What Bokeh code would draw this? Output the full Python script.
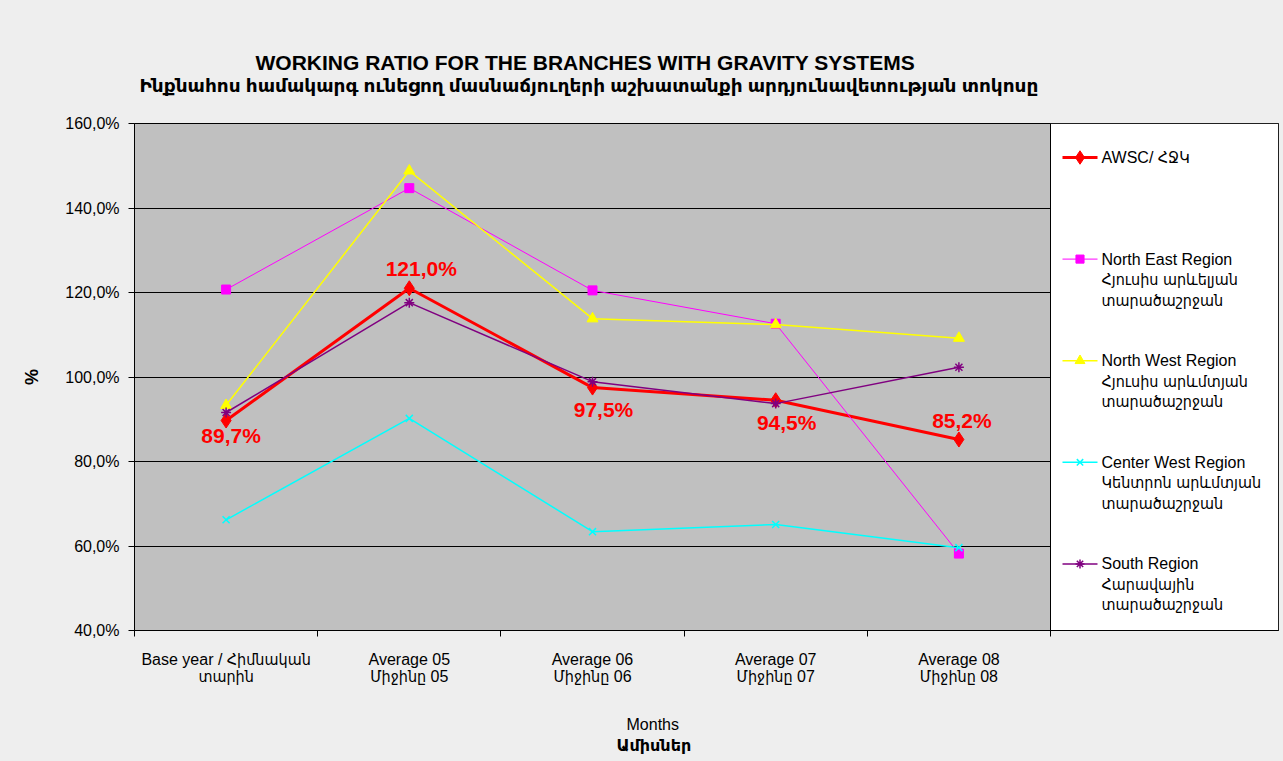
from bokeh.plotting import figure
from bokeh.models import Range1d, FixedTicker, ColumnDataSource, Title
from bokeh.core.properties import value
from bokeh.embed import file_html
from bokeh.resources import INLINE

# ---------------- data ----------------
categories = [
    "Base year / Հիմնական\nտարին",
    "Average 05\nՄիջինը 05",
    "Average 06\nՄիջինը 06",
    "Average 07\nՄիջինը 07",
    "Average 08\nՄիջինը 08",
]
awsc = [89.7, 121.0, 97.5, 94.5, 85.2]
north_east = [120.7, 144.7, 120.5, 112.6, 58.2]
north_west = [93.3, 148.8, 113.8, 112.4, 109.2]
center_west = [66.2, 90.2, 63.4, 65.1, 59.6]
south = [91.6, 117.6, 98.9, 93.7, 102.3]
awsc_labels = ["89,7%", "121,0%", "97,5%", "94,5%", "85,2%"]
y_ticks = [40, 60, 80, 100, 120, 140, 160]
y_tick_labels = ["40,0%", "60,0%", "80,0%", "100,0%", "120,0%", "140,0%", "160,0%"]
series_labels = [
    ["AWSC/ ՀՋԿ"],
    ["North East Region", "Հյուսիս արևելյան", "տարածաշրջան"],
    ["North West Region", "Հյուսիս արևմտյան", "տարածաշրջան"],
    ["Center West Region", "Կենտրոն արևմտյան", "տարածաշրջան"],
    ["South Region", "Հարավային", "տարածաշրջան"],
]
title_en = "WORKING RATIO FOR THE BRANCHES WITH GRAVITY SYSTEMS"
title_hy = "Ինքնահոս համակարգ ունեցող մասնաճյուղերի աշխատանքի արդյունավետության տոկոսը"
x_title_en = "Months"
x_title_hy = "Ամիսներ"
y_title = "%"

# ---------------- layout / style ----------------
W, H = 1283, 761
FL, FT, FB, FR = 134, 123, 131, 5
FRAME_W = W - FL - FR
FRAME_H = H - FT - FB
N = len(categories)
CAT_PX = 183.2
X_END = FRAME_W / CAT_PX
Y0, Y1 = 40, 160
FONT = "Liberation Sans, DejaVu Sans Condensed"
FONT_WIDE = "Liberation Sans, DejaVu Sans"
BG = "#eeeeee"


def dx(px):
    """canvas pixel column -> data x"""
    return (px - FL) / CAT_PX


def dy(py):
    """canvas pixel row -> data y"""
    return Y1 - (py - FT) * (Y1 - Y0) / FRAME_H


p = figure(width=W, height=H, x_range=Range1d(0, X_END), y_range=Range1d(Y0, Y1),
           output_backend="svg", toolbar_location=None, title=None,
           min_border_left=FL, min_border_top=FT, min_border_bottom=FB, min_border_right=FR,
           background_fill_color="#c0c0c0", border_fill_color=BG,
           outline_line_color="black", outline_line_width=1)

# axes
xa = p.xaxis[0]
xs = [i + 0.5 for i in range(N)]
xa.ticker = FixedTicker(ticks=xs, minor_ticks=list(range(N + 1)))
xa.major_label_overrides = {x: c for x, c in zip(xs, categories)}
xa.major_tick_line_color = None
xa.major_tick_out = 6
xa.minor_tick_in = 0
xa.minor_tick_out = 6
xa.minor_tick_line_color = "black"
xa.axis_line_color = "black"
xa.major_label_standoff = 14
xa.major_label_text_font = FONT
xa.major_label_text_font_size = "16px"
xa.major_label_text_color = "black"
xa.major_label_text_line_height = 1.05

ya = p.yaxis[0]
ya.ticker = FixedTicker(ticks=y_ticks, minor_ticks=[])
ya.major_label_overrides = {t: l for t, l in zip(y_ticks, y_tick_labels)}
ya.major_tick_in = 0
ya.major_tick_out = 6
ya.major_tick_line_color = "black"
ya.axis_line_color = "black"
ya.major_label_standoff = 9
ya.major_label_text_font = FONT
ya.major_label_text_font_size = "16px"
ya.major_label_text_color = "black"
ya.axis_label = y_title
ya.axis_label_text_font = FONT
ya.axis_label_text_font_style = "bold"
ya.axis_label_text_font_size = "18px"
ya.axis_label_text_color = "black"
ya.axis_label_standoff = 20

p.xgrid.grid_line_color = None
p.ygrid.grid_line_color = "black"
p.ygrid.grid_line_width = 1

# titles: stacked outward from the plot frame; a blank line gives the gap to the frame
p.add_layout(Title(text=title_hy + "\n ", align="left", offset=5, standoff=0,
                   text_font=FONT_WIDE, text_font_style="bold", text_font_size="18.5px",
                   text_line_height=1.3, text_color="black"), "above")
p.add_layout(Title(text=title_en, align="left", offset=121, standoff=0,
                   text_font=FONT, text_font_style="bold", text_font_size="21px",
                   text_color="black"), "above")

p.add_layout(Title(text=" \n" + x_title_en, align="left", offset=492, standoff=2,
                   text_font=FONT, text_font_style="normal", text_font_size="16px",
                   text_line_height=1.45, text_color="black"), "below")
p.add_layout(Title(text=x_title_hy, align="left", offset=482, standoff=0,
                   text_font=FONT_WIDE, text_font_style="bold", text_font_size="16px",
                   text_color="black"), "below")

# legend box
p.quad(left=[N], right=[X_END], bottom=[Y0], top=[Y1], fill_color="white", line_color="black", line_width=1)

# series
src = ColumnDataSource(dict(x=xs, awsc=awsc, ne=north_east, nw=north_west, cw=center_west, s=south))
styles = [
    ("awsc", "#ff0000", 3, "diamond", 15),
    ("ne", "#ff00ff", 1, "square", 9),
    ("nw", "#ffff00", 1.5, "triangle", 11),
    ("cw", "#00ffff", 1.5, "x", 10),
    ("s", "#800080", 1.5, "asterisk", 10),
]
for col, color, lw, marker, size in styles:
    p.line("x", col, source=src, line_color=color, line_width=lw)
    p.scatter("x", col, source=src, marker=marker, size=size, fill_color=color,
              line_color=color, line_width=1.5 if marker in ("x", "asterisk") else 1)

# AWSC data labels
label_dx = [5, 12, 11, 11, 3]
label_dy = [15, -20, 22, 22, -19]
p.text(x=xs, y=awsc, text=awsc_labels, x_offset=label_dx, y_offset=label_dy,
       text_align="center", text_baseline="middle", text_color="#ff0000",
       text_font=value(FONT), text_font_style="bold", text_font_size="21px")

# legend entries
LEG_TOP, LEG_STEP, LINE_STEP = 157, 101.6, 20.5
for i, ((col, color, lw, marker, size), lines) in enumerate(zip(styles, series_labels)):
    ty = LEG_TOP + i * LEG_STEP
    p.line(x=[dx(1062), dx(1097)], y=[dy(ty), dy(ty)], line_color=color, line_width=lw)
    p.scatter(x=[dx(1079.5)], y=[dy(ty)], marker=marker, size=size * 0.9, fill_color=color,
              line_color=color, line_width=1.5 if marker in ("x", "asterisk") else 1)
    p.text(x=[dx(1101)] * len(lines), y=[dy(ty + j * LINE_STEP) for j in range(len(lines))],
           text=lines, text_align="left", text_baseline="middle", text_color="black",
           text_font=value(FONT), text_font_size="16px")

html = file_html(p, INLINE, title="Working ratio")
html = html.replace("<body>", '<body style="background-color: %s;">' % BG)
open("out.html", "w").write(html)
